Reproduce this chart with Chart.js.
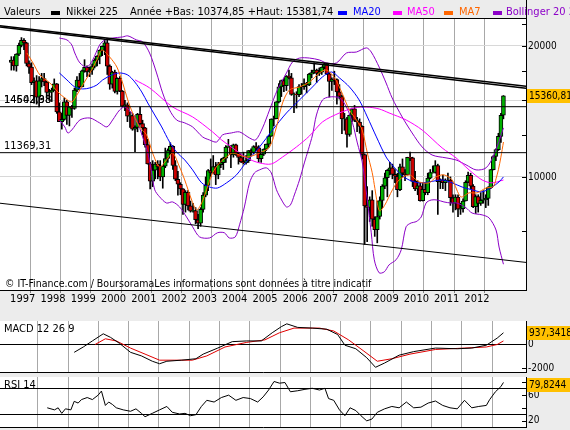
<!DOCTYPE html>
<html>
<head>
<meta charset="utf-8">
<script src="https://cdn.jsdelivr.net/npm/chart.js@4.4.0/dist/chart.umd.min.js"></script>
<style>
  html, body { margin: 0; padding: 0; background: #ececec; }
  #wrap { position: relative; width: 570px; height: 430px; overflow: hidden; background: #ececec; }
  canvas { position: absolute; left: 0; }
</style>
</head>
<body>
<div id="wrap">
  <canvas id="main" width="570" height="312" style="top:0;width:570px;height:312px"></canvas>
  <canvas id="macd" width="570" height="56" style="top:320px;width:570px;height:56px"></canvas>
  <canvas id="rsi" width="570" height="54" style="top:376px;width:570px;height:54px"></canvas>
</div>
<script>
// Nikkei 225, monthly candles from Feb 1997 to May 2013
const firstYear = 1997, firstMonth = 2;

const open = [
  18330,18557,18003,19151,20069,20605,20331,18229,17888,16459,16636,
  15259,16628,16832,16527,15641,15671,15830,16379,14108,13406,13564,14883,
  13842,14499,14368,15837,16701,16112,17530,17862,17437,17605,17942,18558,
  18934,19540,19960,20337,17974,16332,17411,15727,16861,15747,14539,14649,
  13786,13843,12884,12999,13934,13262,12969,11860,10714,9775,10367,10697,
  10543,9998,10588,11025,11493,11764,10622,9878,9619,9383,8640,9216,
  8579,8340,8363,7973,7831,8425,9083,9563,10344,10219,10560,10101,
  10677,10784,11042,11715,11762,11236,11859,11326,11082,10824,10771,10899,
  11489,11388,11741,11669,11009,11277,11584,11900,12414,13574,13607,14872,
  16111,16650,16205,17060,16906,15467,15505,15457,16141,16128,16399,16274,
  17226,17383,17604,17288,17400,17876,18138,17249,16569,16786,16737,15681,
  15308,13592,13603,12526,13850,14339,13481,13377,13073,11260,8577,8512,
  8860,7994,7568,8110,8828,9523,9958,10357,10493,10133,10035,9346,
  10546,10198,10126,11090,11057,9769,9383,9537,8824,9369,9202,9937,
  10229,10238,10624,9755,9850,9694,9816,9833,8955,8700,8988,8435,
  8455,8803,9723,10084,9521,8543,9007,8695,8840,8870,8928,9446,
  10395,11139,11559,12398,13861
];
const high = [
  18900,18900,19200,20300,20910,20800,20400,18500,18300,16900,17100,
  17000,17300,17300,16600,15900,16000,16800,16400,14800,14000,15200,15000,
  14500,14600,16000,17000,17300,17600,18600,18000,17900,18200,18700,19000,
  19600,20000,20700,20833,18100,17500,17600,16900,17000,15800,15000,14800,
  14100,14000,13100,14000,14500,13500,13000,12200,10800,10900,10800,10900,
  10900,10600,11650,11600,11980,11800,10900,10300,9700,9400,9300,9300,
  8800,8700,8500,8200,8500,9200,10000,10400,11000,11200,10800,10800,
  11000,11100,11800,12200,11800,11900,11900,11400,11300,11400,11200,11500,
  11600,11800,12000,11800,11300,11600,11900,12450,13600,13800,14900,16400,
  16700,16800,17100,17600,17300,15600,15700,16300,16400,16800,16500,17300,
  17600,18300,17700,17800,17900,18300,18262,17400,16900,17500,16800,16300,
  15400,14000,13700,13900,14400,14600,13700,13600,13100,11300,9500,9000,
  9300,8100,8800,9000,9600,10200,10400,10800,10700,10400,10200,10700,
  11000,10400,11100,11400,11100,10300,9800,9700,9700,9700,10200,10400,
  10600,10900,10700,9900,10100,9900,10200,10000,9100,9100,9100,8700,
  8900,9800,10255,10200,9600,9100,9100,9200,9300,9100,9500,10400,
  11200,11600,12600,14000,15382
];
const low = [
  17600,17600,17500,19000,19900,19600,18000,17300,16300,14775,14700,
  14488,16100,16200,15200,15000,14900,15800,14000,13400,12879,13500,13200,
  13100,13700,14300,15700,15900,16100,17400,17000,17000,17200,17800,18000,
  18200,19000,19100,17200,15900,16000,15600,15500,15700,14500,14200,13400,
  13000,12800,11433,12700,13200,12500,11700,10700,9382,9500,9900,9900,
  9800,9420,10500,10800,11300,10400,9800,9075,9100,8197,8300,8400,
  8300,8300,7800,7607,7700,8300,9000,9300,10000,10200,9600,9900,
  10500,10400,10800,11700,10500,11100,11200,10700,10800,10700,10700,10800,
  11200,11300,11500,10800,10800,11200,11500,11700,12400,13100,13600,14800,
  15300,15700,15800,16800,15400,14050,14400,15300,15500,15900,15600,16200,
  16900,17300,16500,17100,17200,17700,17200,15262,15800,16300,14700,15100,
  12572,12800,11700,12400,13400,13400,12700,12600,11000,6994,7100,7900,
  7700,7300,7054,8000,8500,9400,9000,10100,9900,9700,9000,9300,
  10000,9800,10100,10900,9500,9300,9100,8800,8800,9100,9100,9900,
  10200,10200,8200,9400,9400,9300,9800,8600,8300,8400,8100,8200,
  8300,8800,9700,9400,8500,8240,8300,8600,8700,8500,8600,9400,
  10375,10900,11500,12000,13600
];
const close = [
  18557,18003,19151,20069,20605,20331,18229,17888,16459,16636,15259,
  16628,16832,16527,15641,15671,15830,16379,14108,13406,13564,14883,13842,
  14499,14368,15837,16701,16112,17530,17862,17437,17605,17942,18558,18934,
  19540,19960,20337,17974,16332,17411,15727,16861,15747,14539,14649,13786,
  13843,12884,12999,13934,13262,12969,11860,10714,9775,10367,10697,10543,
  9998,10588,11025,11493,11764,10622,9878,9619,9383,8640,9216,8579,
  8340,8363,7973,7831,8425,9083,9563,10344,10219,10560,10101,10677,
  10784,11042,11715,11762,11236,11859,11326,11082,10824,10771,10899,11489,
  11388,11741,11669,11009,11277,11584,11900,12414,13574,13607,14872,16111,
  16650,16205,17060,16906,15467,15505,15457,16141,16128,16399,16274,17226,
  17383,17604,17288,17400,17876,18138,17249,16569,16786,16737,15681,15308,
  13592,13603,12526,13850,14339,13481,13377,13073,11260,8577,8512,8860,
  7994,7568,8110,8828,9523,9958,10357,10493,10133,10035,9346,10546,
  10198,10126,11090,11057,9769,9383,9537,8824,9369,9202,9937,10229,
  10238,10624,9755,9850,9694,9816,9833,8955,8700,8988,8435,8455,
  8803,9723,10084,9521,8543,9007,8695,8840,8870,8928,9446,10395,
  11139,11559,12398,13861,15361
];

// indicator lines: [year, value]
const ma7 = [[1997.64,19270],[1997.84,18280],[1998.07,17150],[1998.40,16440],[1998.66,15680],[1998.89,15190],[1999.12,14870],[1999.29,15430],[1999.48,16270],[1999.72,17340],[1999.95,18570],[2000.11,19580],[2000.37,18870],[2000.61,17890],[2000.80,16440],[2000.97,15030],[2001.13,14030],[2001.36,13030],[2001.59,12490],[2001.79,11350],[2002.02,10540],[2002.25,10940],[2002.45,11350],[2002.68,10540],[2002.85,9840],[2003.08,8850],[2003.24,8400],[2003.41,8710],[2003.57,9340],[2003.77,10210],[2004.00,10770],[2004.23,11110],[2004.43,11350],[2004.89,11110],[2005.32,11350],[2005.65,11720],[2005.88,13030],[2006.08,14790],[2006.31,15850],[2006.64,16100],[2006.97,16530],[2007.30,17340],[2007.53,17610],[2007.80,16890],[2008.03,15680],[2008.29,14250],[2008.52,13520],[2008.71,12820],[2008.88,11350],[2009.04,10240],[2009.13,9410],[2009.21,8700],[2009.29,8350],[2009.45,8600],[2009.71,9340],[2009.93,9840],[2010.26,10110],[2010.59,9740],[2010.92,9690],[2011.15,10000],[2011.41,10110],[2011.68,9840],[2011.97,9000],[2012.24,9190],[2012.50,9190],[2012.80,9430],[2013.04,9500],[2013.13,9900],[2013.21,10400],[2013.29,11100],[2013.375,12030]];
const ma20 = [[1998.71,17340],[1998.96,16710],[1999.22,16100],[1999.48,15930],[1999.72,16020],[1999.95,16270],[2000.14,16710],[2000.44,17150],[2000.70,17340],[2000.97,17150],[2001.20,16530],[2001.43,15680],[2001.63,14790],[2001.86,13880],[2002.09,13030],[2002.35,12030],[2002.58,11410],[2002.85,10940],[2003.11,10380],[2003.41,9690],[2003.67,9480],[2003.93,9430],[2004.23,9690],[2004.56,10110],[2004.89,10830],[2005.32,11720],[2005.75,12820],[2006.21,14030],[2006.64,15030],[2007.07,16100],[2007.40,16980],[2007.70,17430],[2007.96,16890],[2008.29,16100],[2008.61,15030],[2008.88,13740],[2009.18,12360],[2009.50,11110],[2009.70,10660],[2010.00,10110],[2010.26,9840],[2010.59,9690],[2010.92,9740],[2011.35,9840],[2011.68,9690],[2012.01,9480],[2012.34,9340],[2012.67,9240],[2013.00,9480],[2013.23,9740],[2013.375,10000]];
const ma50 = [[2001.21,16710],[2001.69,16020],[2002.45,14480],[2003.11,13740],[2003.77,12690],[2004.07,12160],[2004.43,11660],[2004.89,11060],[2005.32,10770],[2005.71,10710],[2006.08,11110],[2006.54,11720],[2006.97,12420],[2007.40,13380],[2007.96,14030],[2008.45,14410],[2008.85,14480],[2009.27,14330],[2009.60,14030],[2010.16,13520],[2010.69,12820],[2011.35,11660],[2011.81,11060],[2012.24,10380],[2012.67,9840],[2013.00,9690],[2013.375,9840]];
const bollUp = [[1998.71,20860],[1998.96,20650],[1999.12,20110],[1999.22,19270],[1999.39,18280],[1999.62,17890],[1999.81,18570],[2000.04,20110],[2000.21,20650],[2000.47,20860],[2000.80,20980],[2000.97,21100],[2001.26,20650],[2001.46,20440],[2001.69,19270],[2001.92,17340],[2002.12,15600],[2002.35,14250],[2002.58,13520],[2002.85,13310],[2003.11,13030],[2003.44,12360],[2003.67,12160],[2003.90,12030],[2004.10,12490],[2004.39,12620],[2004.66,12690],[2004.99,12290],[2005.19,12160],[2005.42,12960],[2005.65,14250],[2005.91,15850],[2006.21,17340],[2006.41,18380],[2006.64,18760],[2006.97,18760],[2007.30,18570],[2007.53,18280],[2007.86,18280],[2008.19,19270],[2008.52,19370],[2008.85,19800],[2009.01,19370],[2009.27,17890],[2009.50,16440],[2009.70,15190],[2010.03,13740],[2010.36,12620],[2010.69,11720],[2011.02,11230],[2011.48,11060],[2011.81,10940],[2012.14,10660],[2012.47,10380],[2012.80,10490],[2013.06,11230],[2013.375,12960]];
const bollLow = [[1998.71,13520],[1998.89,13030],[1998.99,12620],[1999.12,12820],[1999.39,13520],[1999.72,13660],[2000.04,13310],[2000.28,13030],[2000.47,13520],[2000.70,14250],[2000.87,14480],[2001.10,14030],[2001.26,13520],[2001.46,12360],[2001.63,11350],[2001.76,10210],[2001.86,9340],[2002.02,9000],[2002.25,8710],[2002.45,8760],[2002.68,8530],[2002.91,8090],[2003.11,7680],[2003.34,7280],[2003.67,7240],[2003.93,7440],[2004.16,7440],[2004.32,7240],[2004.52,7280],[2004.66,7760],[2004.82,8530],[2004.99,9690],[2005.15,10210],[2005.32,10380],[2005.55,10490],[2005.71,10210],[2005.88,9340],[2006.05,8850],[2006.21,8530],[2006.34,8620],[2006.47,9090],[2006.64,9840],[2006.80,10770],[2006.93,11540],[2007.07,12490],[2007.20,13880],[2007.40,15030],[2007.63,15270],[2007.96,15190],[2008.19,14480],[2008.39,13310],[2008.55,11970],[2008.71,10830],[2008.88,8850],[2009.01,7440],[2009.11,6450],[2009.27,6020],[2009.44,6050],[2009.60,6280],[2009.83,6450],[2010.00,6800],[2010.16,7680],[2010.33,7840],[2010.49,7890],[2010.66,8090],[2010.82,8710],[2010.99,8850],[2011.18,8850],[2011.41,8760],[2011.64,8710],[2011.84,8710],[2012.14,8490],[2012.34,8260],[2012.67,8180],[2012.90,8050],[2013.13,7550],[2013.23,6900],[2013.375,6300]];

const macdLine = [[1999.20,-676],[1999.50,-235],[1999.80,265],[2000.16,853],[2000.40,559],[2000.70,59],[2001.06,-676],[2001.42,-971],[2001.78,-1412],[2002.02,-1618],[2002.26,-1412],[2002.74,-1324],[2003.22,-1206],[2003.46,-824],[2003.94,-324],[2004.42,206],[2004.90,265],[2005.38,265],[2005.74,941],[2006.04,1441],[2006.22,1676],[2006.58,1382],[2007.06,1324],[2007.54,1235],[2007.90,794],[2008.14,-88],[2008.50,-382],[2008.86,-1118],[2009.15,-1912],[2009.45,-1559],[2009.93,-912],[2010.41,-618],[2011.13,-324],[2011.85,-382],[2012.33,-324],[2012.81,-88],[2013.17,500],[2013.375,937.3418]];
const macdSignal = [[1999.89,-29],[2000.23,441],[2000.59,265],[2001.06,-324],[2001.54,-824],[2002.02,-1324],[2002.50,-1324],[2003.10,-1324],[2003.58,-971],[2004.18,-235],[2004.90,147],[2005.50,353],[2005.98,941],[2006.46,1324],[2007.30,1324],[2007.77,1088],[2008.26,353],[2008.74,-529],[2009.21,-1412],[2009.69,-1206],[2010.29,-824],[2011.13,-441],[2012.09,-324],[2012.81,-235],[2013.17,-29],[2013.375,265]];
const rsi = [[1998.31,40.3],[1998.55,37.1],[1998.67,40.3],[1998.79,31.7],[1998.91,38.7],[1999.09,37.1],[1999.20,50.4],[1999.33,47.7],[1999.44,53.1],[1999.63,56.3],[1999.80,53.1],[1999.99,60],[2000.10,66.4],[2000.23,44],[2000.34,49.3],[2000.46,45.6],[2000.59,40.3],[2000.82,37.1],[2001.06,34.9],[2001.24,38.7],[2001.42,31.7],[2001.54,26.4],[2001.78,31.7],[2002.02,37.1],[2002.26,42.4],[2002.44,33.3],[2002.68,30.7],[2002.86,31.7],[2003.04,28],[2003.22,29.6],[2003.40,42.4],[2003.58,52],[2003.82,49.3],[2004.06,56.3],[2004.30,60],[2004.54,52],[2004.78,56.3],[2005.02,54.7],[2005.26,49.3],[2005.44,57.3],[2005.62,68],[2005.80,81.3],[2005.98,78.7],[2006.16,79.7],[2006.34,65.3],[2006.58,66.9],[2006.82,69.1],[2007.06,70.7],[2007.30,68],[2007.48,70.7],[2007.60,54.7],[2007.77,52],[2007.96,37.1],[2008.14,28],[2008.31,40.3],[2008.50,36],[2008.67,28],[2008.86,20],[2009.03,22.7],[2009.21,33.3],[2009.45,38.7],[2009.69,42.4],[2009.93,40.3],[2010.17,49.3],[2010.41,40.3],[2010.65,41.3],[2010.89,47.7],[2011.13,50.9],[2011.37,44],[2011.61,40.3],[2011.85,38.7],[2012.09,52],[2012.33,40.3],[2012.56,42.4],[2012.81,44],[2012.92,53.1],[2013.11,65.3],[2013.29,73.3],[2013.375,79.8244]];

// straight lines drawn on the chart
const trendUpper = [[1996.75,22250],[2014.12,16150]];
const trendUpper2 = [[1996.75,22100],[2014.12,16000]];
const trendLower = [[1996.75,8700],[2014.12,6360]];
const levels = [14502.98, 11369.31];
const levelLabels = [['14502,98', '14642,38'], ['11369,31']];

// axes
const xMin = 1996.75, xMax = 2014.12;
const gridYears = [1998,1999,2000,2001,2002,2003,2004,2005,2006,2007,2008,2009,2010,2011,2012,2013];
const yearLabels = ['1997','1998','1999','2000','2001','2002','2003','2004','2005','2006','2007','2008','2009','2010','2011','2012'];
const yMin = 5496, yMax = 23070;
const priceTicks = [7500,10000,12500,15000,17500,20000,22500];
const priceGrid = [10000,15000,20000];
const priceLabelled = [10000,20000];
const macdMin = -2300, macdMax = 1910;
const macdTicks = [-2000, 0];
const rsiMin = 10.4, rsiMax = 88.3;
const rsiTicks = [20, 40, 60, 80];
const rsiLabelled = [20, 60];
const rsiBands = [30, 70];

const lastText = { price: '15360,81', macd: '937,3418', rsi: '79,8244' };
const statsText = 'Année +Bas: 10374,85 +Haut: 15381,74';

const FONT = "'DejaVu Sans Condensed', 'Liberation Sans', sans-serif";
const C = {
  ma20: '#0000ff', ma50: '#ff00ff', ma7: '#ff6600', boll: '#8c00c8',
  up: '#00b000', down: '#d00000', vgrid: '#a8a8a8', hgrid: '#d8d8d8',
  box: '#ffc000', signal: '#e00000'
};
const NONE = 'rgba(0,0,0,0)';

Chart.defaults.font.family = FONT;
Chart.defaults.color = '#000';

const monthPos = close.map((c, i) => firstYear + (firstMonth - 1 + i + 0.5) / 12);
const labelPos = yearLabels.map(s => Number(s) + 0.5);
const xTicks = gridYears.concat(labelPos).sort((a, b) => a - b);

function pts(arr) {
  return arr.map(p => ({ x: p[0], y: p[1] }));
}

function lineDs(data, color, order, width, tension) {
  return {
    type: 'line', data: pts(data), borderColor: color, borderWidth: width || 1,
    pointRadius: 0, tension: tension || 0, fill: false, order: order
  };
}

// keep the plot areas where they are: no extra room for edge labels
function noPad(s) {
  s.paddingTop = 0; s.paddingBottom = 0; s.paddingLeft = 0; s.paddingRight = 0;
}

function whiteArea(chart) {
  const a = chart.chartArea, g = chart.ctx;
  g.save();
  g.fillStyle = '#fff';
  g.fillRect(a.left, a.top, a.right - a.left, a.bottom - a.top);
  g.restore();
}

function inwardTicks(g, a, scale, values) {
  g.strokeStyle = '#000';
  g.lineWidth = 1;
  values.forEach(v => {
    const p = Math.round(scale.getPixelForValue(v)) + 0.5;
    g.beginPath();
    g.moveTo(a.right - 4, p);
    g.lineTo(a.right, p);
    g.stroke();
  });
}

function valueBox(g, a, yPix, text, minTop) {
  const top = Math.round(Math.max(yPix - 7, minTop));
  g.fillStyle = C.box;
  g.fillRect(a.right + 1, top, 50, 14);
  g.fillStyle = '#000';
  g.font = '10px ' + FONT;
  g.textBaseline = 'middle';
  g.textAlign = 'left';
  g.fillText(text, a.right + 3, top + 7.5);
}

const legendItems = [
  { text: 'Valeurs', x: 4, color: '#000' },
  { text: 'Nikkei 225', x: 66, color: '#000', mark: 51 },
  { text: statsText, x: 130, color: '#000' },
  { text: 'MA20', x: 353, color: C.ma20, mark: 338 },
  { text: 'MA50', x: 407, color: C.ma50, mark: 393 },
  { text: 'MA7', x: 459, color: C.ma7, mark: 444 },
  { text: 'Bollinger 20 2', x: 506, color: C.boll, mark: 493 }
];

const mainDecor = {
  id: 'mainDecor',
  beforeDraw: whiteArea,
  afterDraw(chart) {
    const g = chart.ctx, a = chart.chartArea, y = chart.scales.y;
    g.save();
    // rule under the legend and the right border going up
    g.strokeStyle = '#000';
    g.lineWidth = 1;
    g.beginPath();
    g.moveTo(0, a.top - 0.5);
    g.lineTo(a.right, a.top - 0.5);
    g.moveTo(a.right + 0.5, 0);
    g.lineTo(a.right + 0.5, a.top);
    g.stroke();
    inwardTicks(g, a, y, priceTicks);

    // legend row
    g.font = '11px ' + FONT;
    g.textBaseline = 'middle';
    g.textAlign = 'left';
    legendItems.forEach(it => {
      if (it.mark !== undefined) {
        g.fillStyle = it.color;
        g.fillRect(it.mark, 11, 9, 4);
      }
      g.fillStyle = it.color;
      g.fillText(it.text, it.x, 12.5);
    });

    // level labels on the left
    g.fillStyle = '#000';
    levels.forEach((v, i) => {
      const p = y.getPixelForValue(v);
      levelLabels[i].forEach(t => g.fillText(t, 4, p - 7));
    });

    g.font = '10.5px ' + FONT;
    g.fillText('\u00A9 IT-Finance.com / BoursoramaLes informations sont données à titre indicatif', 5, a.bottom - 5.5);

    valueBox(g, a, y.getPixelForValue(close[close.length - 1]), lastText.price, a.top + 3);
    g.restore();
  }
};

function panelDecor(title, markTicks, boxValue, boxText) {
  return {
    id: 'panelDecor',
    beforeDraw: whiteArea,
    afterDraw(chart) {
      const g = chart.ctx, a = chart.chartArea, y = chart.scales.y;
      g.save();
      inwardTicks(g, a, y, markTicks);
      g.fillStyle = '#000';
      g.font = '11px ' + FONT;
      g.textBaseline = 'middle';
      g.textAlign = 'left';
      g.fillText(title, 4, a.top + 8);
      valueBox(g, a, y.getPixelForValue(boxValue), boxText, a.top + 1);
      g.restore();
    }
  };
}

function panelX() {
  return {
    type: 'linear', min: xMin, max: xMax,
    afterBuildTicks: s => { s.ticks = gridYears.map(v => ({ value: v })); },
    afterFit: s => { s.height = 0; noPad(s); },
    grid: { color: C.vgrid, drawTicks: false },
    border: { color: '#000' },
    ticks: { display: false }
  };
}

const baseOptions = {
  responsive: false, animation: false, events: [],
  plugins: { legend: { display: false }, tooltip: { enabled: false } }
};

// main price chart
new Chart(document.getElementById('main'), {
  type: 'bar',
  data: {
    datasets: [
      lineDs(trendUpper, '#000', 0, 1.5),
      lineDs(trendUpper2, '#000', 0, 1.5),
      lineDs(trendLower, '#000', 0, 1),
      ...levels.map(v => lineDs([[xMin, v], [xMax, v]], '#000', 1, 1)),
      lineDs(ma7, C.ma7, 2, 1, 0.3),
      lineDs(ma20, C.ma20, 3, 1, 0.3),
      lineDs(ma50, C.ma50, 4, 1, 0.3),
      lineDs(bollUp, C.boll, 5, 1, 0.3),
      lineDs(bollLow, C.boll, 5, 1, 0.3),
      {
        type: 'bar', label: 'Nikkei 225', order: 6, grouped: false,
        data: close.map((c, i) => ({ x: monthPos[i], y: [open[i], c] })),
        backgroundColor: ctx => close[ctx.dataIndex] >= open[ctx.dataIndex] ? C.up : C.down,
        borderColor: '#000', borderWidth: 1, borderSkipped: false, barThickness: 4
      },
      {
        type: 'bar', order: 7, grouped: false,
        data: close.map((c, i) => ({ x: monthPos[i], y: [low[i], high[i]] })),
        backgroundColor: '#000', borderWidth: 0, barThickness: 1
      }
    ]
  },
  options: {
    ...baseOptions,
    layout: { padding: { top: 19, left: 0, right: 0, bottom: 0 }, autoPadding: false },
    scales: {
      x: {
        type: 'linear', min: xMin, max: xMax, offset: false,
        afterBuildTicks: s => { s.ticks = xTicks.map(v => ({ value: v })); },
        afterFit: s => { s.height = 22; noPad(s); },
        grid: {
          color: c => (c.tick && gridYears.includes(c.tick.value)) ? C.vgrid : NONE,
          tickColor: c => (c.tick && gridYears.includes(c.tick.value)) ? '#808080' : NONE,
          tickLength: 3
        },
        border: { color: '#000' },
        ticks: {
          autoSkip: false, maxRotation: 0, padding: 0, font: { size: 11 },
          callback: v => { const i = labelPos.indexOf(v); return i < 0 ? '' : yearLabels[i]; }
        }
      },
      y: {
        type: 'logarithmic', position: 'right', min: yMin, max: yMax,
        afterBuildTicks: s => { s.ticks = priceTicks.map(v => ({ value: v })); },
        afterFit: s => { s.width = 44; noPad(s); },
        grid: { color: c => (c.tick && priceGrid.includes(c.tick.value)) ? C.hgrid : NONE, drawTicks: false },
        border: { color: '#000' },
        ticks: { autoSkip: false, padding: 2, font: { size: 10 }, callback: v => priceLabelled.includes(v) ? String(v) : '' }
      }
    }
  },
  plugins: [mainDecor]
});

// MACD panel
new Chart(document.getElementById('macd'), {
  type: 'line',
  data: { datasets: [lineDs(macdLine, '#000', 0, 1), lineDs(macdSignal, C.signal, 1, 1)] },
  options: {
    ...baseOptions,
    layout: { padding: { top: 1, left: 0, right: 0, bottom: 4 }, autoPadding: false },
    scales: {
      x: panelX(),
      y: {
        type: 'linear', position: 'right', min: macdMin, max: macdMax,
        afterBuildTicks: s => { s.ticks = macdTicks.map(v => ({ value: v })); },
        afterFit: s => { s.width = 44; noPad(s); },
        grid: { color: c => (c.tick && c.tick.value === 0) ? '#000' : NONE, drawTicks: false },
        border: { color: '#000' },
        ticks: { autoSkip: false, padding: 2, font: { size: 10 }, callback: v => String(v) }
      }
    }
  },
  plugins: [panelDecor('MACD 12 26 9', macdTicks, macdLine[macdLine.length - 1][1], lastText.macd)]
});

// RSI panel
new Chart(document.getElementById('rsi'), {
  type: 'line',
  data: { datasets: [lineDs(rsi, '#000', 0, 1)] },
  options: {
    ...baseOptions,
    layout: { padding: { top: 1, left: 0, right: 0, bottom: 3 }, autoPadding: false },
    scales: {
      x: panelX(),
      y: {
        type: 'linear', position: 'right', min: rsiMin, max: rsiMax,
        afterBuildTicks: s => { s.ticks = rsiTicks.concat(rsiBands).sort((a, b) => a - b).map(v => ({ value: v })); },
        afterFit: s => { s.width = 44; noPad(s); },
        grid: { color: c => (c.tick && rsiBands.includes(c.tick.value)) ? '#000' : NONE, drawTicks: false },
        border: { color: '#000' },
        ticks: { autoSkip: false, padding: 2, font: { size: 10 }, callback: v => rsiLabelled.includes(v) ? String(v) : '' }
      }
    }
  },
  plugins: [panelDecor('RSI 14', rsiTicks, rsi[rsi.length - 1][1], lastText.rsi)]
});
</script>
</body>
</html>
